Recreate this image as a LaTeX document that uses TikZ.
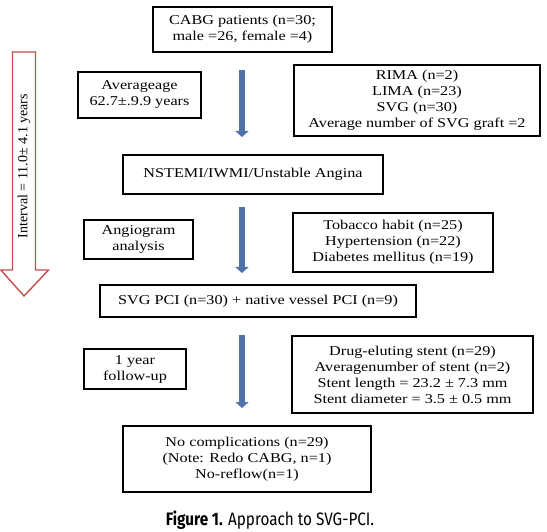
\documentclass[tikz,border=0pt]{standalone}
\usepackage{fontspec}
\setmainfont[FakeStretch=1.2]{Liberation Serif}
\newfontfamily\plainserif{Liberation Serif}
\newfontfamily\capfont[FakeStretch=0.85]{Fira Sans}
\usetikzlibrary{arrows.meta}
\definecolor{flowblue}{RGB}{79,114,168}
\definecolor{intred}{RGB}{192,80,77}
\tikzset{
  box/.style={draw=black, line width=1.6pt, rectangle, inner sep=0pt, align=center,
    font=\fontsize{13.5}{16}\selectfont},
  downarrow/.style={draw=flowblue, line width=6.5pt, -{Triangle[width=13pt,length=6pt]}},
  interval/.style={draw=intred, line width=1.4pt, fill=white},
}
\begin{document}
\begin{tikzpicture}[x=1pt,y=-1pt]
\useasboundingbox (0,0) rectangle (547,532);
% interval arrow
\draw[interval] (12.5,52) -- (35.5,52) -- (35.5,270) -- (48.5,270) -- (24,296) -- (0.8,270) -- (12.5,270) -- cycle;
\node[rotate=90, font=\plainserif\fontsize{14}{16}\selectfont] (intv) at (24,166) {Interval = 11.0± 4.1 years};
% boxes
\node[box, minimum width=179pt, minimum height=45pt] (cabg) at (242.5,29.5) {CABG patients (n=30;\\ male =26, female =4)};
\node[box, minimum width=123pt, minimum height=46pt] (age) at (139.5,95) {Averageage\\62.7±.9.9 years};
\node[box, minimum width=246pt, minimum height=71pt] (rima) at (417,100.5) {RIMA (n=2)\\LIMA (n=23)\\SVG (n=30)\\Average number of SVG graft =2};
\node[box, minimum width=260pt, minimum height=39pt] (nst) at (253,174.5) {NSTEMI/IWMI/Unstable Angina};
\node[box, minimum width=109pt, minimum height=39pt] (ang) at (138.5,239.5) {Angiogram\\analysis};
\node[box, minimum width=200pt, minimum height=59pt] (tob) at (393,242.5) {Tobacco habit (n=25)\\Hypertension (n=22)\\Diabetes mellitus (n=19)};
\node[box, minimum width=316pt, minimum height=32pt] (svg) at (258,301) {SVG PCI (n=30) + native vessel PCI (n=9)};
\node[box, minimum width=102pt, minimum height=40pt] (yr) at (135,369) {1 year\\follow-up};
\node[box, minimum width=241pt, minimum height=77pt] (drug) at (412.5,374.5) {Drug-eluting stent (n=29)\\Averagenumber of stent (n=2)\\Stent length = 23.2 ± 7.3 mm\\Stent diameter = 3.5 ± 0.5 mm};
\node[box, minimum width=248pt, minimum height=66pt] (noc) at (247,459) {No complications (n=29)\\(Note: Redo CABG, n=1)\\No-reflow(n=1)};
% blue arrows
\coordinate (a1s) at (242,70); \coordinate (a1e) at (242,137);
\coordinate (a2s) at (242,207); \coordinate (a2e) at (242,273);
\coordinate (a3s) at (242,335); \coordinate (a3e) at (242,408);
\draw[downarrow] (a1s) -- (a1e);
\draw[downarrow] (a2s) -- (a2e);
\draw[downarrow] (a3s) -- (a3e);
% caption
\node[font=\capfont\fontsize{18}{20}\selectfont] (cap) at (270,520) {\textbf{Figure 1.} Approach to SVG-PCI.};
\end{tikzpicture}
\end{document}
